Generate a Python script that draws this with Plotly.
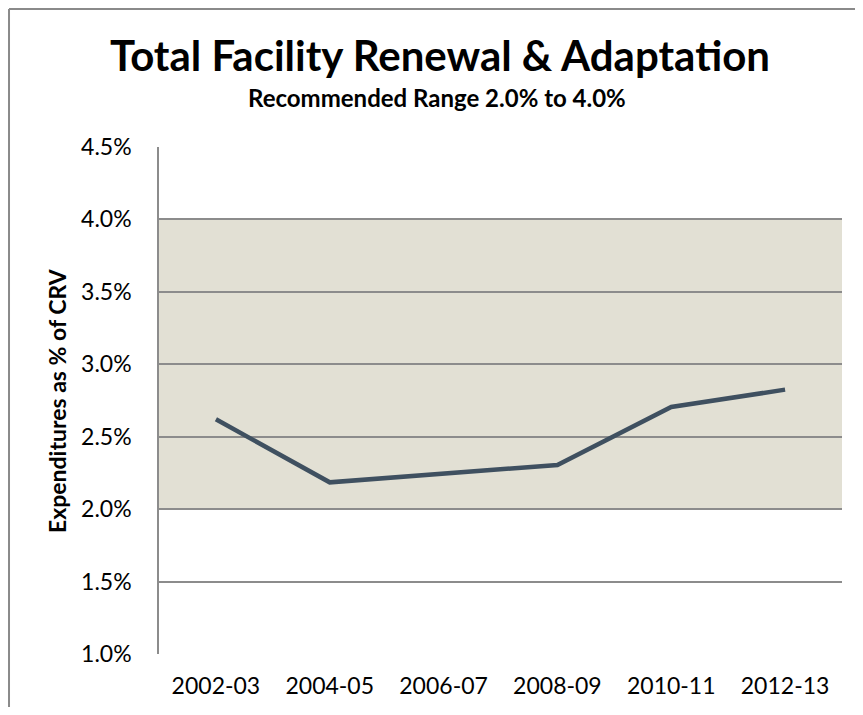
import plotly.graph_objects as go

categories = ["2002-03", "2004-05", "2006-07", "2008-09", "2010-11", "2012-13"]
values = [2.62, 2.185, None, 2.305, 2.705, 2.825]
tick_vals = [1.0, 1.5, 2.0, 2.5, 3.0, 3.5, 4.0, 4.5]
tick_text = ["1.0%", "1.5%", "2.0%", "2.5%", "3.0%", "3.5%", "4.0%", "4.5%"]
band_low, band_high = 2.0, 4.0

FONT = "Lato"
grid = "#8c8c8c"

fig = go.Figure()
fig.add_trace(go.Scatter(
    x=categories, y=values, mode="lines", connectgaps=True,
    line=dict(color="#3f5060", width=4.5), hoverinfo="skip"
))

fig.add_shape(type="rect", xref="paper", yref="y", x0=0, x1=1,
              y0=band_low, y1=band_high, fillcolor="#e2e0d4",
              line=dict(width=0), layer="below")
# outer chart border (left and top)
fig.add_shape(type="line", xref="paper", yref="paper", x0=-0.2196, x1=-0.2196,
              y0=-0.2, y1=1.272, line=dict(color="#8a8a8a", width=2))
fig.add_shape(type="line", xref="paper", yref="paper", x0=-0.2196, x1=1.1,
              y0=1.272, y1=1.272, line=dict(color="#8a8a8a", width=2))

fig.add_annotation(text="<b>Total Facility Renewal &amp; Adaptation</b>",
                   xref="paper", yref="paper", x=0.411, y=1.182,
                   xanchor="center", yanchor="middle", showarrow=False,
                   font=dict(family=FONT, size=42, color="#000000"))
fig.add_annotation(text="<b>Recommended Range 2.0% to 4.0%</b>",
                   xref="paper", yref="paper", x=0.407, y=1.098,
                   xanchor="center", yanchor="middle", showarrow=False,
                   font=dict(family=FONT, size=24, color="#000000"))
fig.add_annotation(text="<b>Expenditures as % of CRV</b>",
                   xref="paper", yref="paper", x=-0.15, y=0.5,
                   xanchor="center", yanchor="middle", showarrow=False,
                   textangle=-90,
                   font=dict(family=FONT, size=23, color="#000000"))

fig.update_layout(
    width=847, height=699,
    margin=dict(l=151, r=13, t=139, b=53, autoexpand=False),
    paper_bgcolor="white", plot_bgcolor="white",
    showlegend=False,
    font=dict(family=FONT, color="#000000"),
    xaxis=dict(type="category", range=[-0.5, 5.5], showgrid=False,
               showline=False, ticks="", tickfont=dict(size=23),
               ticklabelstandoff=16, fixedrange=True, automargin=False),
    yaxis=dict(range=[1.0, 4.5], tickvals=tick_vals, ticktext=tick_text,
               showgrid=True, gridcolor=grid, gridwidth=1.5,
               showline=True, linecolor=grid, linewidth=1.5,
               zeroline=False, ticks="", tickfont=dict(size=23),
               ticklabelstandoff=21, fixedrange=True, automargin=False),
)

fig.write_html("out.html")
